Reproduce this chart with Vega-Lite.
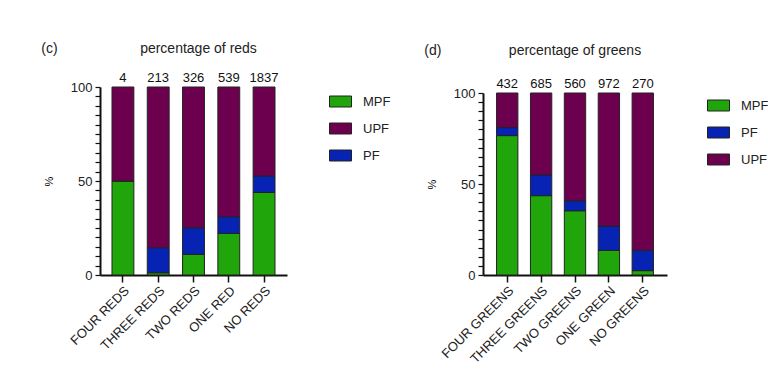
{
  "$schema": "https://vega.github.io/schema/vega-lite/v6.json",
  "padding": {"left": 41, "top": 42, "right": 5, "bottom": 5},
  "background": "white",
  "config": {
    "font": "Liberation Sans",
    "view": {"stroke": null},
    "title": {"fontSize": 14, "fontWeight": "normal", "color": "#222"},
    "axis": {"domainColor": "#111", "tickColor": "#111", "labelColor": "#222", "labelFont": "Liberation Sans", "grid": false},
    "legend": {"labelFontSize": 13, "labelColor": "#222", "symbolType": "M-1,-0.5H1V0.5H-1Z", "symbolSize": 484, "symbolStrokeColor": "#222", "symbolStrokeWidth": 1, "symbolOpacity": 1, "rowPadding": 8, "labelOffset": 11}
  },
  "spacing": 30,
  "resolve": {"scale": {"color": "independent", "x": "independent", "y": "independent"}, "legend": {"color": "independent"}},
  "hconcat": [
    {
      "title": {"text": "(c)", "anchor": "start", "frame": "bounds", "dy": 18, "dx": -2},
      "vconcat": [
        {
          "width": 187,
          "height": 188,
          "title": {"text": "percentage of reds", "anchor": "middle", "frame": "group", "offset": 16, "dx": 5},
          "data": {"values": [
            {"cat": "FOUR REDS", "grp": "MPF", "ord": 0, "pct": 50, "n": 4},
            {"cat": "FOUR REDS", "grp": "PF", "ord": 1, "pct": 0, "n": 4},
            {"cat": "FOUR REDS", "grp": "UPF", "ord": 2, "pct": 50, "n": 4},
            {"cat": "THREE REDS", "grp": "MPF", "ord": 0, "pct": 1.2, "n": 213},
            {"cat": "THREE REDS", "grp": "PF", "ord": 1, "pct": 13.3, "n": 213},
            {"cat": "THREE REDS", "grp": "UPF", "ord": 2, "pct": 85.5, "n": 213},
            {"cat": "TWO REDS", "grp": "MPF", "ord": 0, "pct": 11, "n": 326},
            {"cat": "TWO REDS", "grp": "PF", "ord": 1, "pct": 14.1, "n": 326},
            {"cat": "TWO REDS", "grp": "UPF", "ord": 2, "pct": 74.9, "n": 326},
            {"cat": "ONE RED", "grp": "MPF", "ord": 0, "pct": 22.1, "n": 539},
            {"cat": "ONE RED", "grp": "PF", "ord": 1, "pct": 8.9, "n": 539},
            {"cat": "ONE RED", "grp": "UPF", "ord": 2, "pct": 69, "n": 539},
            {"cat": "NO REDS", "grp": "MPF", "ord": 0, "pct": 43.9, "n": 1837},
            {"cat": "NO REDS", "grp": "PF", "ord": 1, "pct": 8.8, "n": 1837},
            {"cat": "NO REDS", "grp": "UPF", "ord": 2, "pct": 47.3, "n": 1837}
          ]},
          "encoding": {
            "x": {"field": "cat", "type": "nominal", "sort": ["FOUR REDS", "THREE REDS", "TWO REDS", "ONE RED", "NO REDS"],
              "scale": {"paddingInner": 0.38, "paddingOuter": 0.34},
              "axis": {"title": null, "labelAngle": -45, "labelFontSize": 13, "tickSize": 7, "tickWidth": 1.5, "domainWidth": 2, "labelPadding": 2}}
          },
          "layer": [
            {
              "mark": {"type": "bar", "stroke": "#222", "strokeWidth": 1},
              "encoding": {
                "y": {"field": "pct", "type": "quantitative", "stack": "zero", "scale": {"domain": [0, 100], "nice": false},
                  "axis": {"title": "%", "titleFontSize": 11, "titleFontWeight": "normal", "titlePadding": 16, "values": [0,5,10,15,20,25,30,35,40,45,50,55,60,65,70,75,80,85,90,95,100], "labelExpr": "datum.value % 50 === 0 ? datum.label : ''", "labelFontSize": 13, "tickSize": 5, "tickWidth": 1.2, "domainWidth": 2, "labelPadding": 3}},
                "color": {"field": "grp", "type": "nominal", "scale": {"domain": ["MPF", "UPF", "PF"], "range": ["#20A50A", "#6D004E", "#0723B3"]},
                  "legend": {"title": null, "offset": 39, "padding": 3}},
                "order": {"field": "ord"}
              }
            },
            {
              "transform": [{"filter": "datum.grp === 'MPF'"}],
              "mark": {"type": "text", "dy": -9, "fontSize": 13, "color": "#111"},
              "encoding": {
                "y": {"datum": 100, "type": "quantitative",
                  "axis": {"title": "%", "titleFontSize": 11, "titleFontWeight": "normal", "titlePadding": 16, "values": [0,5,10,15,20,25,30,35,40,45,50,55,60,65,70,75,80,85,90,95,100], "labelExpr": "datum.value % 50 === 0 ? datum.label : ''", "labelFontSize": 13, "tickSize": 5, "tickWidth": 1.2, "domainWidth": 2, "labelPadding": 3}},
                "text": {"field": "n"}
              }
            }
          ]
        }
      ]
    },
    {
      "title": {"text": "(d)", "anchor": "start", "frame": "bounds", "dy": 18, "dx": -2},
      "vconcat": [
        {
          "width": 184,
          "height": 188,
          "title": {"text": "percentage of greens", "anchor": "middle", "frame": "group", "offset": 20},
          "data": {"values": [
            {"cat": "FOUR GREENS", "grp": "MPF", "ord": 0, "pct": 76.6, "n": 432},
            {"cat": "FOUR GREENS", "grp": "PF", "ord": 1, "pct": 4.4, "n": 432},
            {"cat": "FOUR GREENS", "grp": "UPF", "ord": 2, "pct": 19, "n": 432},
            {"cat": "THREE GREENS", "grp": "MPF", "ord": 0, "pct": 43.6, "n": 685},
            {"cat": "THREE GREENS", "grp": "PF", "ord": 1, "pct": 11.4, "n": 685},
            {"cat": "THREE GREENS", "grp": "UPF", "ord": 2, "pct": 45, "n": 685},
            {"cat": "TWO GREENS", "grp": "MPF", "ord": 0, "pct": 35.3, "n": 560},
            {"cat": "TWO GREENS", "grp": "PF", "ord": 1, "pct": 5.5, "n": 560},
            {"cat": "TWO GREENS", "grp": "UPF", "ord": 2, "pct": 59.2, "n": 560},
            {"cat": "ONE GREEN", "grp": "MPF", "ord": 0, "pct": 13.5, "n": 972},
            {"cat": "ONE GREEN", "grp": "PF", "ord": 1, "pct": 13.4, "n": 972},
            {"cat": "ONE GREEN", "grp": "UPF", "ord": 2, "pct": 73.1, "n": 972},
            {"cat": "NO GREENS", "grp": "MPF", "ord": 0, "pct": 2.4, "n": 270},
            {"cat": "NO GREENS", "grp": "PF", "ord": 1, "pct": 11.2, "n": 270},
            {"cat": "NO GREENS", "grp": "UPF", "ord": 2, "pct": 86.4, "n": 270}
          ]},
          "encoding": {
            "x": {"field": "cat", "type": "nominal", "sort": ["FOUR GREENS", "THREE GREENS", "TWO GREENS", "ONE GREEN", "NO GREENS"],
              "scale": {"paddingInner": 0.37, "paddingOuter": 0.4},
              "axis": {"title": null, "labelAngle": -45, "labelFontSize": 13, "tickSize": 7, "tickWidth": 1.5, "domainWidth": 2, "labelPadding": 2}}
          },
          "layer": [
            {
              "mark": {"type": "bar", "stroke": "#222", "strokeWidth": 1},
              "encoding": {
                "y": {"field": "pct", "type": "quantitative", "stack": "zero", "scale": {"domain": [0, 100], "nice": false, "range": [188, 6]},
                  "axis": {"title": "%", "titleFontSize": 11, "titleFontWeight": "normal", "titlePadding": 16, "values": [0,5,10,15,20,25,30,35,40,45,50,55,60,65,70,75,80,85,90,95,100], "labelExpr": "datum.value % 50 === 0 ? datum.label : ''", "labelFontSize": 13, "tickSize": 5, "tickWidth": 1.2, "domainWidth": 2, "labelPadding": 3}},
                "color": {"field": "grp", "type": "nominal", "scale": {"domain": ["MPF", "PF", "UPF"], "range": ["#20A50A", "#0723B3", "#6D004E"]},
                  "legend": {"title": null, "offset": 33, "padding": 7}},
                "order": {"field": "ord"}
              }
            },
            {
              "transform": [{"filter": "datum.grp === 'MPF'"}],
              "mark": {"type": "text", "dy": -9, "fontSize": 13, "color": "#111"},
              "encoding": {
                "y": {"datum": 100, "type": "quantitative",
                  "axis": {"title": "%", "titleFontSize": 11, "titleFontWeight": "normal", "titlePadding": 16, "values": [0,5,10,15,20,25,30,35,40,45,50,55,60,65,70,75,80,85,90,95,100], "labelExpr": "datum.value % 50 === 0 ? datum.label : ''", "labelFontSize": 13, "tickSize": 5, "tickWidth": 1.2, "domainWidth": 2, "labelPadding": 3}},
                "text": {"field": "n"}
              }
            }
          ]
        }
      ]
    }
  ]
}
